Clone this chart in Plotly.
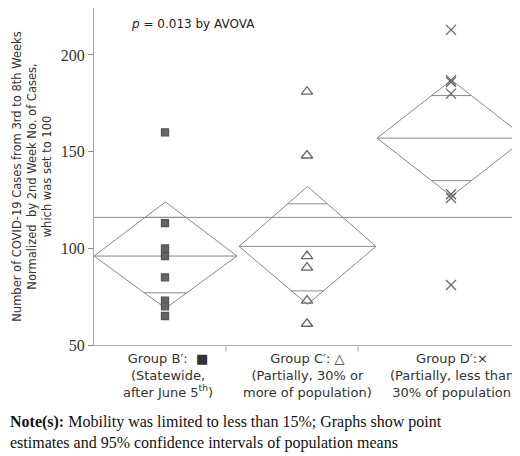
import plotly.graph_objects as go

groups = ["B", "C", "D"]
left = [86, 231, 369]
right = [229, 368, 518]
means = [96, 101, 157]
ci_hi = [124, 132, 187]
ci_lo = [69, 71, 127]
ov_hi = [116, 123, 179]
ov_lo = [77, 78, 135]
grand_mean = 116
pts_B = [160, 113, 100, 96, 85, 73, 70, 65]
pts_C = [181, 148, 96, 90, 73, 61]
pts_D = [213, 187, 186, 180, 128, 126, 81]
pts = [pts_B, pts_C, pts_D]
symbols = ["square", "triangle-up-open", "x-thin-open"]
labels = ["Group B′:  ■<br>(Statewide,<br>after June 5<sup>th</sup>)",
          "Group C′: △<br>(Partially, 30% or<br>more of population)",
          "Group D′:×<br>(Partially, less than<br> 30% of population)"]
dividers = [218, 350]

fig = go.Figure()
lc = "#888"
for i in range(3):
    l, r, m = left[i], right[i], means[i]
    c = (l + r) / 2
    fig.add_trace(go.Scatter(x=[l, c, r, c, l], y=[m, ci_hi[i], m, ci_lo[i], m], mode="lines",
                             line=dict(color=lc, width=1), showlegend=False, hoverinfo="skip"))
    fig.add_trace(go.Scatter(x=[l, r], y=[m, m], mode="lines", line=dict(color=lc, width=1),
                             showlegend=False, hoverinfo="skip"))
    half = (r - l) / 2
    for yv, tip in ((ov_hi[i], ci_hi[i]), (ov_lo[i], ci_lo[i])):
        w = half * (1 - abs(yv - m) / abs(tip - m))
        fig.add_trace(go.Scatter(x=[c - w, c + w], y=[yv, yv], mode="lines",
                                 line=dict(color=lc, width=1), showlegend=False, hoverinfo="skip"))
    xc = 157 if i == 0 else (299 if i == 1 else 443)
    fig.add_trace(go.Scatter(x=[xc] * len(pts[i]), y=pts[i], mode="markers",
                             marker=dict(symbol=symbols[i], size=10 if i else 7, color="#666",
                                         line=dict(color="#555", width=1.3)),
                             showlegend=False))
    fig.add_annotation(x=c if i else 160, y=0, yref="paper", yanchor="top", yshift=-4,
                       text=labels[i], showarrow=False, align="center",
                       font=dict(family="DejaVu Sans", size=13, color="#333"))

fig.add_trace(go.Scatter(x=[86, 518], y=[grand_mean, grand_mean], mode="lines",
                         line=dict(color=lc, width=1), showlegend=False, hoverinfo="skip"))
for d in dividers:
    fig.add_shape(type="line", x0=d, x1=d, y0=0, y1=-0.02, yref="paper",
                  line=dict(color="#aaa", width=1))

fig.add_annotation(x=0.08, y=224, xref="paper", yanchor="top", xanchor="left", showarrow=False,
                   text="<i>p</i> = 0.013 by AVOVA", font=dict(family="DejaVu Sans", size=12, color="#222"), yshift=-6)
fig.add_annotation(x=-86/432, xref="paper", y=0, yref="paper", yanchor="top", xanchor="left", yshift=-66,
                   showarrow=False, align="left",
                   text="<b>Note(s):</b> Mobility was limited to less than 15%; Graphs show point<br>estimates and 95% confidence intervals of population means",
                   font=dict(family="Liberation Serif", size=16, color="#111"))

fig.update_layout(width=520, height=456, margin=dict(l=86, r=2, t=0, b=119, autoexpand=False),
                  plot_bgcolor="white", paper_bgcolor="white",
                  xaxis=dict(range=[86, 518], showticklabels=False, showgrid=False, zeroline=False,
                             showline=True, linecolor="#aaa", mirror=True, ticks=""),
                  yaxis=dict(range=[50, 224.3], tickvals=[50, 100, 150, 200], showgrid=False, zeroline=False,
                             showline=True, linecolor="#aaa", mirror=True, ticks="outside", ticklen=5,
                             tickcolor="#888", tickfont=dict(family="Liberation Serif", size=16, color="#333"),
                             title=dict(text="Number of COVID-19 Cases from 3rd to 8th Weeks<br>Normalized  by 2nd Week No. of Cases,<br>which was set to 100",
                                        font=dict(family="DejaVu Sans", size=11.5, color="#333"), standoff=6)))
fig.write_html("out.html")
